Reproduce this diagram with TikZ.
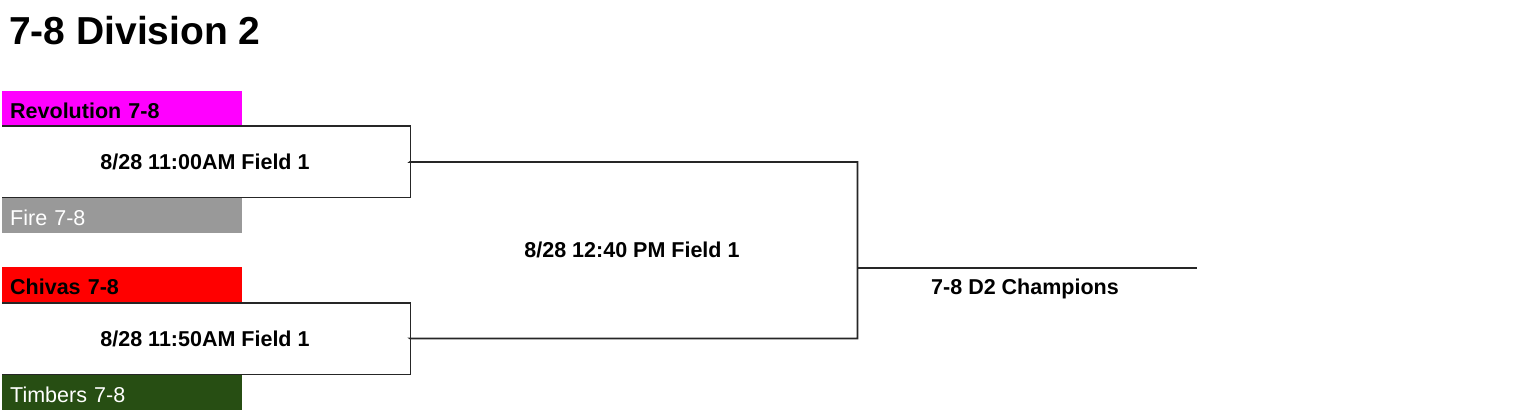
\documentclass[tikz,border=0pt]{standalone}
\usepackage{fontspec}
\setmainfont{Liberation Sans}
\definecolor{revo}{HTML}{FF00FF}
\definecolor{chiv}{HTML}{FF0000}
\definecolor{firec}{HTML}{999999}
\definecolor{timb}{HTML}{274E13}
\begin{document}
\begin{tikzpicture}[x=1pt,y=-1pt,
  team/.style={anchor=north west, inner xsep=8pt, inner ysep=0pt, text width=224pt, align=left,
    minimum height=35pt, text height=19pt, text depth=0pt, font=\fontsize{21.5}{24}\selectfont},
  darktxt/.style={font=\fontsize{21.5}{24}\selectfont\bfseries, text=black},
  lighttxt/.style={text=white},
  slot/.style={anchor=north west, inner sep=0pt},
  lbl/.style={font=\fontsize{21.5}{24}\selectfont\bfseries, inner sep=0pt, anchor=base},
  br/.style={line width=1.8pt, black!85}]
\useasboundingbox (0,0) rectangle (1536,412);
\node[anchor=base west, inner sep=0pt, font=\fontsize{39}{44}\selectfont\bfseries] (title) at (9,45) {7-8 Division 2};
% teams
\node[team, fill=revo, darktxt] (t1) at (2,91) {Revolution 7-8};
\node[team, fill=firec, lighttxt] (t2) at (2,198) {Fire 7-8};
\node[team, fill=chiv, darktxt] (t3) at (2,267) {Chivas 7-8};
\node[team, fill=timb, lighttxt] (t4) at (2,375) {Timbers 7-8};
% match slots
\node[slot, minimum width=408pt, minimum height=71pt] (m1) at (2,126) {};
\node[slot, minimum width=408pt, minimum height=71pt] (m2) at (2,303) {};
\node[slot, minimum width=447pt, minimum height=176pt] (f) at (410,162) {};
\coordinate (champL) at (857,268);
\coordinate (champR) at (1197,268);
% labels
\node[lbl] (l1) at (205,169) {8/28 11:00AM Field 1};
\node[lbl] (l2) at (205,346) {8/28 11:50AM Field 1};
\node[lbl] (l3) at (632,257) {8/28 12:40 PM Field 1};
\node[lbl] (l4) at (1025,294) {7-8 D2 Champions};
% bracket lines
\draw[br] (m1.north west) -- (m1.north east) -- (m1.south east) -- (m1.south west);
\draw[br] (m2.north west) -- (m2.north east) -- (m2.south east) -- (m2.south west);
\draw[br] (m1.east) -- (f.north west) -- (f.north east) -- (f.south east) -- (f.south west) -- (m2.east);
\draw[br] (champL) -- (champR);
\end{tikzpicture}
\end{document}
